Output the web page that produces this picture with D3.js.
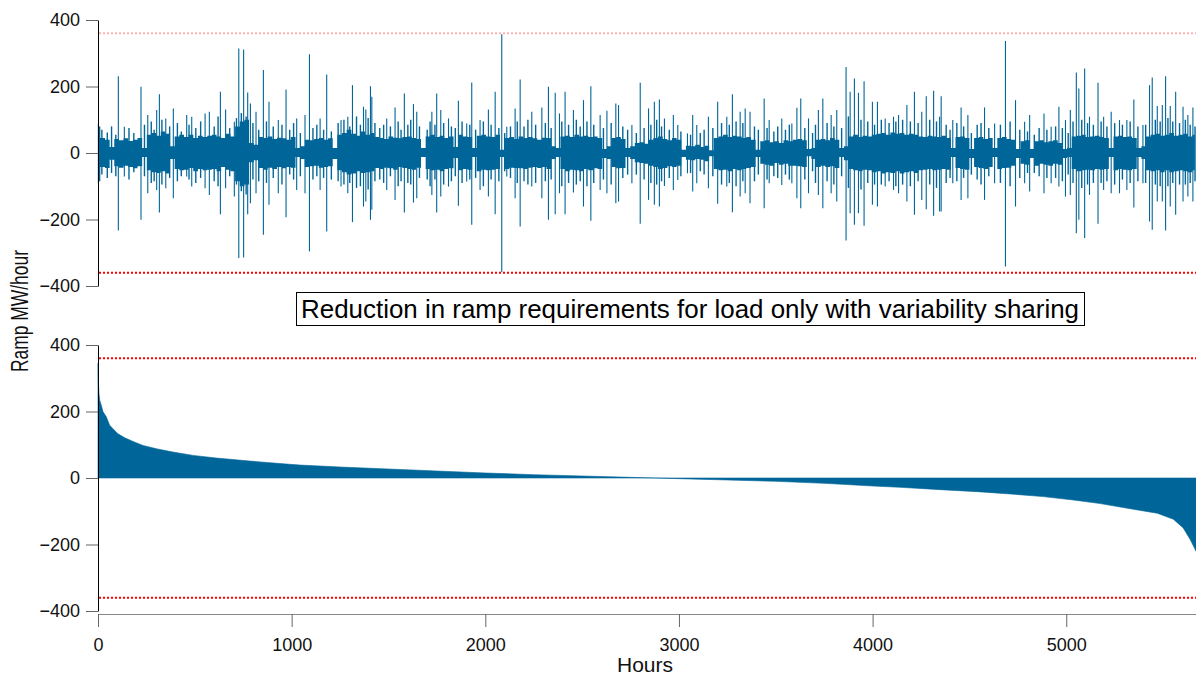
<!DOCTYPE html>
<html>
<head>
<meta charset="utf-8">
<script src="https://cdn.jsdelivr.net/npm/d3@7"></script>
<style>
body { margin: 0; background: #fff; }
svg { display: block; font-family: "Liberation Sans", Arial, sans-serif; }
</style>
</head>
<body>
<div class="chart"></div>
<script>
// ---- data ----
const xTicks = [0, 1000, 2000, 3000, 4000, 5000];
const yTicks = [-400, -200, 0, 200, 400];
const limitLines = [360, -360];
const hourMax = 5670;
const dayLength = 24;

// daily envelope of the dense ramp band (MW/hour), one value per day
const dayHigh = [
  80, 45, 40, 18, 42, 38, 44, 36, 40, 45,
  15, 55, 60, 52, 65, 58, 20, 50, 55, 48,
  55, 45, 52, 48, 52, 55, 50, 45, 58, 50,
  80, 95, 100, 30, 25, 48, 45, 50, 42, 46,
  44, 40, 48, 15, 20, 40, 38, 42, 45, 40,
  44, 15, 55, 60, 70, 58, 52, 65, 55, 60,
  48, 45, 42, 50, 46, 44, 48, 50, 45, 42,
  15, 50, 55, 48, 52, 45, 50, 18, 55, 50,
  48, 15, 52, 55, 50, 48, 55, 10, 45, 48,
  42, 50, 45, 48, 44, 40, 46, 45, 20, 15,
  50, 52, 48, 55, 50, 52, 48, 50, 45, 12,
  20, 45, 48, 42, 15, 20, 30, 32, 28, 40,
  45, 50, 42, 38, 45, 40, 10, 22, 20, 25,
  18, 22, 8, 45, 50, 55, 48, 52, 50, 45,
  48, 40, 10, 35, 38, 32, 35, 30, 38, 35,
  40, 42, 38, 12, 15, 40, 42, 38, 45, 40,
  15, 20, 50, 55, 48, 52, 50, 55, 58, 60,
  55, 62, 58, 60, 55, 58, 55, 50, 48, 52,
  50, 48, 52, 45, 15, 48, 50, 45, 12, 45,
  48, 42, 45, 15, 45, 48, 42, 40, 12, 35,
  38, 12, 35, 38, 32, 35, 38, 30, 12, 15,
  50, 52, 55, 48, 50, 52, 48, 45, 15, 50,
  52, 48, 50, 45, 15, 20, 50, 55, 58, 52,
  55, 60, 52, 55, 58, 50, 55
];
const dayLow = [
  -85, -42, -45, -20, -40, -44, -38, -42, -46, -40,
  -12, -52, -58, -60, -55, -62, -18, -48, -52, -50,
  -45, -55, -48, -52, -50, -48, -55, -42, -50, -55,
  -85, -100, -95, -28, -22, -45, -50, -44, -48, -42,
  -46, -42, -44, -12, -18, -42, -40, -38, -44, -42,
  -40, -18, -52, -58, -65, -62, -55, -60, -58, -55,
  -45, -48, -44, -46, -50, -42, -45, -48, -50, -44,
  -12, -48, -52, -50, -55, -48, -46, -15, -52, -48,
  -50, -12, -55, -50, -52, -50, -48, -12, -48, -44,
  -45, -46, -48, -44, -42, -45, -42, -48, -18, -12,
  -48, -55, -50, -52, -55, -48, -52, -46, -48, -15,
  -18, -42, -46, -45, -12, -18, -28, -30, -32, -38,
  -42, -48, -45, -40, -42, -38, -12, -20, -22, -18,
  -20, -25, -10, -48, -52, -50, -55, -48, -52, -48,
  -45, -42, -12, -32, -35, -38, -30, -35, -32, -38,
  -38, -40, -42, -10, -18, -42, -38, -42, -40, -45,
  -12, -22, -48, -52, -55, -50, -52, -58, -55, -62,
  -58, -60, -55, -62, -58, -55, -60, -52, -50, -48,
  -52, -50, -48, -50, -12, -45, -48, -50, -15, -42,
  -45, -48, -42, -12, -48, -45, -44, -38, -15, -32,
  -35, -15, -38, -32, -35, -38, -32, -35, -15, -12,
  -48, -55, -52, -50, -52, -48, -50, -48, -12, -52,
  -48, -50, -52, -48, -12, -18, -52, -55, -52, -58,
  -52, -58, -55, -52, -55, -58, -52
];

// tall ramp spikes: [hour, up, down]
const spikes = [
  [2, 89, -91], [105, 231, -233], [136, 79, -71], [222, 199, -201], [257, 114, -121],
  [303, 129, -111], [317, 177, -179], [350, 104, -106], [389, 134, -136], [458, 114, -71],
  [484, 109, -101], [553, 119, -106], [575, 124, -126], [632, 184, -184], [659, 131, -106],
  [704, 94, -131], [727, 314, -316], [752, 311, -314], [773, 182, -184], [787, 149, -151],
  [816, 124, -121], [854, 250, -246], [883, 154, -156], [931, 99, -121], [971, 191, -193],
  [1026, 104, -111], [1069, 114, -121], [1092, 297, -296], [1147, 104, -111], [1181, 236, -236],
  [1255, 99, -101], [1290, 109, -121], [1314, 204, -208], [1371, 139, -161], [1383, 131, -146],
  [1407, 201, -201], [1414, 169, -171], [1491, 104, -111], [1534, 137, -141], [1582, 179, -179],
  [1629, 147, -149], [1646, 124, -136], [1724, 124, -126], [1749, 179, -179], [1770, 129, -131],
  [1810, 104, -101], [1861, 157, -159], [1904, 89, -86], [1930, 212, -216], [1973, 99, -111],
  [2016, 131, -131], [2051, 184, -184], [2085, 357, -358], [2111, 79, -71], [2154, 134, -136],
  [2180, 221, -221], [2240, 124, -101], [2292, 137, -136], [2326, 199, -201], [2361, 181, -184],
  [2383, 119, -121], [2412, 184, -184], [2455, 129, -119], [2507, 159, -161], [2545, 201, -204],
  [2593, 114, -111], [2628, 127, -121], [2674, 149, -151], [2688, 144, -146], [2757, 84, -91],
  [2800, 211, -213], [2843, 134, -141], [2873, 154, -156], [2899, 161, -161], [2925, 104, -99],
  [2971, 114, -111], [2994, 84, -81], [3044, 59, -61], [3071, 114, -116], [3092, 84, -91],
  [3152, 109, -106], [3200, 154, -153], [3247, 109, -101], [3276, 177, -178], [3316, 124, -131],
  [3342, 134, -121], [3367, 124, -151], [3440, 164, -166], [3466, 99, -91], [3531, 104, -96],
  [3583, 89, -91], [3609, 136, -136], [3629, 164, -166], [3669, 104, -121], [3720, 129, -126],
  [3743, 164, -166], [3786, 114, -121], [3815, 129, -146], [3863, 259, -263], [3884, 184, -181],
  [3906, 224, -216], [3927, 181, -181], [3956, 216, -219], [3999, 154, -156], [4025, 154, -161],
  [4065, 104, -101], [4108, 109, -111], [4134, 114, -121], [4177, 144, -146], [4216, 184, -186],
  [4254, 124, -141], [4277, 171, -169], [4315, 187, -189], [4346, 109, -176], [4354, 171, -176],
  [4414, 99, -91], [4457, 137, -141], [4492, 114, -136], [4578, 137, -141], [4630, 89, -91],
  [4686, 337, -341], [4738, 159, -161], [4785, 94, -91], [4811, 114, -116], [4885, 119, -121],
  [4922, 79, -91], [4962, 139, -101], [4996, 99, -131], [5021, 129, -126], [5052, 242, -241],
  [5065, 194, -201], [5095, 254, -256], [5120, 109, -126], [5164, 211, -213], [5193, 109, -111],
  [5232, 124, -121], [5275, 99, -121], [5313, 99, -111], [5349, 161, -164], [5396, 84, -91],
  [5430, 204, -206], [5444, 227, -231], [5470, 141, -146], [5496, 144, -146], [5513, 231, -233],
  [5537, 141, -161], [5565, 184, -186], [5603, 139, -146], [5628, 114, -131], [5654, 137, -146]
];

// shorter ramps that fray the edge of the band: [hour, up, down]
const minorSpikes = [
  [20, 70, -65], [48, 62, -75], [70, 80, -60], [92, 55, -70], [160, 75, -80], [185, 60, -58],
  [240, 85, -70], [275, 95, -90], [290, 70, -85], [330, 100, -95], [370, 80, -75], [410, 90, -85],
  [430, 65, -70], [470, 85, -80], [505, 75, -90], [530, 95, -75], [600, 80, -85], [620, 110, -100],
  [680, 75, -70], [715, 105, -95], [740, 120, -115], [765, 110, -125], [800, 90, -80], [830, 70, -85],
  [870, 95, -90], [905, 80, -75], [950, 85, -95], [990, 70, -65], [1010, 90, -80], [1045, 60, -70],
  [1110, 75, -80], [1130, 85, -70], [1165, 70, -75], [1205, 65, -80], [1240, 90, -85], [1270, 100, -95],
  [1300, 80, -90], [1335, 110, -105], [1355, 85, -100], [1395, 105, -110], [1430, 90, -85], [1455, 75, -80],
  [1475, 85, -90], [1510, 80, -70], [1550, 95, -100], [1565, 70, -85], [1600, 85, -90], [1615, 100, -95],
  [1660, 80, -75], [1700, 70, -80], [1715, 95, -100], [1740, 85, -80], [1785, 90, -95], [1825, 80, -85],
  [1845, 75, -70], [1880, 95, -90], [1920, 85, -80], [1950, 70, -75], [1990, 95, -100], [2030, 85, -80],
  [2070, 75, -85], [2100, 60, -55], [2130, 80, -75], [2165, 95, -90], [2200, 80, -85], [2220, 100, -95],
  [2260, 85, -90], [2310, 90, -85], [2340, 75, -80], [2395, 95, -100], [2430, 85, -90], [2470, 100, -95],
  [2490, 80, -85], [2525, 95, -100], [2560, 85, -90], [2610, 75, -80], [2650, 90, -95], [2710, 80, -75],
  [2735, 70, -65], [2780, 60, -65], [2820, 75, -80], [2855, 85, -90], [2885, 100, -95], [2910, 80, -85],
  [2950, 70, -75], [3010, 65, -70], [3060, 55, -60], [3110, 60, -55], [3130, 70, -65], [3175, 75, -70],
  [3220, 90, -95], [3260, 85, -90], [3295, 95, -100], [3330, 90, -85], [3390, 80, -85], [3410, 70, -65],
  [3455, 75, -80], [3490, 65, -70], [3510, 80, -75], [3550, 70, -65], [3570, 85, -80], [3650, 75, -80],
  [3690, 60, -55], [3705, 85, -90], [3765, 90, -85], [3800, 80, -95], [3840, 75, -70], [3875, 110, -105],
  [3940, 100, -110], [3975, 95, -90], [4010, 85, -95], [4045, 100, -95], [4085, 90, -85], [4120, 95, -100],
  [4155, 100, -95], [4195, 95, -100], [4235, 90, -85], [4295, 100, -95], [4330, 95, -105], [4380, 85, -90],
  [4400, 70, -75], [4435, 90, -85], [4470, 80, -75], [4510, 60, -65], [4540, 85, -80], [4560, 90, -95],
  [4600, 75, -70], [4660, 85, -90], [4710, 95, -100], [4760, 70, -75], [4800, 65, -60], [4835, 55, -60],
  [4860, 75, -70], [4900, 70, -75], [4945, 80, -75], [4980, 75, -85], [5010, 60, -65], [5035, 95, -90],
  [5080, 100, -105], [5110, 90, -95], [5140, 85, -90], [5180, 95, -90], [5210, 80, -85], [5250, 90, -95],
  [5290, 85, -80], [5330, 95, -90], [5370, 80, -85], [5410, 85, -90], [5460, 100, -95], [5485, 95, -100],
  [5525, 105, -100], [5550, 95, -90], [5585, 90, -95], [5615, 100, -95], [5640, 85, -90], [5665, 80, -85]
];

// sorted ramps (duration curve) for the lower panel
const durHours = [0, 1, 2, 5, 9, 17, 26, 43, 60, 77, 103, 138, 181, 232, 301, 387, 491, 611, 783,
  973, 1042, 1250, 1500, 1750, 2000, 2250, 2500, 2750, 3000, 3250, 3500, 3750, 4000, 4142, 4349,
  4540, 4711, 4881, 5036, 5176, 5346, 5470, 5553, 5604, 5640, 5666, 5670];
const durValues = [345, 340, 290, 255, 234, 219, 199, 184, 159, 148, 133, 121, 110, 98, 88, 78, 68, 60, 51,
  42, 39, 33, 27, 21, 15, 10, 6, 2, -2, -6, -10, -16, -24, -28, -35,
  -41, -48, -56, -66, -77, -94, -106, -124, -150, -185, -215, -220];

const annotation = "Reduction in ramp requirements for load only with variability sharing";

// ---- layout ----
const width = 1196, height = 677;
const blue = "#006699";

const svg = d3.select(".chart").append("svg")
  .attr("width", width)
  .attr("height", height);

const x = d3.scaleLinear().domain([0, hourMax]).range([98, 1196]);
const yTop = d3.scaleLinear().domain([-400, 400]).range([286, 20]);
const yBot = d3.scaleLinear().domain([-400, 400]).range([611, 345]);

// top panel: hourly ramps
const days = dayHigh.map((h, i) => ({ hour: i * dayLength, hi: h, lo: dayLow[i] }));
const band = d3.area()
  .x(d => x(d.hour))
  .y0(d => yTop(d.lo))
  .y1(d => yTop(d.hi))
  .curve(d3.curveStep);

const topPanel = svg.append("g").attr("class", "top-panel");
topPanel.append("path")
  .datum(days)
  .attr("d", band)
  .style("fill", blue)
  .style("stroke", "none");

function drawSpikes(list, cls, w) {
  topPanel.selectAll("." + cls)
    .data(list)
    .enter()
    .append("line")
    .attr("class", cls)
    .attr("x1", d => x(d[0]))
    .attr("x2", d => x(d[0]))
    .attr("y1", d => yTop(d[1]))
    .attr("y2", d => yTop(d[2]))
    .style("stroke", blue)
    .style("stroke-width", w);
}
drawSpikes(minorSpikes, "minor-spike", 1.4);
drawSpikes(spikes, "spike", 1.1);

// bottom panel: sorted ramps
const durData = durHours.map((h, i) => ({ hour: h, value: durValues[i] }));
const durArea = d3.area()
  .x(d => x(d.hour))
  .y0(yBot(0))
  .y1(d => yBot(d.value));

svg.append("path")
  .datum(durData)
  .attr("d", durArea)
  .style("fill", blue)
  .style("stroke", blue)
  .style("stroke-width", 0.6);

// limit lines
const limits = svg.append("g").attr("class", "limits");
limitLines.forEach(v => {
  limits.append("line")
    .attr("x1", 99).attr("x2", width)
    .attr("y1", yTop(v)).attr("y2", yTop(v))
    .style("stroke", "#ff0000")
    .style("stroke-opacity", v > 0 ? 0.3 : 1)
    .style("stroke-width", 2)
    .style("stroke-dasharray", "2,2");
  limits.append("line")
    .attr("x1", 99).attr("x2", width)
    .attr("y1", yBot(v)).attr("y2", yBot(v))
    .style("stroke", "#ff0000")
    .style("stroke-width", 2)
    .style("stroke-dasharray", "2,2");
});

// axes
function styleAxis(g, domainColor) {
  g.select(".domain").style("stroke", domainColor);
  g.selectAll(".tick line").style("stroke", "#666");
  g.selectAll(".tick text").style("fill", "#111").style("font-size", "18px");
}

[yTop, yBot].forEach(y => {
  svg.append("g")
    .attr("transform", "translate(98,0)")
    .call(d3.axisLeft(y).tickValues(yTicks).tickSize(12).tickSizeOuter(0).tickPadding(6))
    .call(g => styleAxis(g, "#000"))
    .style("font-family", "inherit");
});

svg.append("g")
  .attr("transform", "translate(0,614)")
  .call(d3.axisBottom(x).tickValues(xTicks).tickFormat(d3.format("d"))
    .tickSize(13).tickSizeOuter(0).tickPadding(11))
  .call(g => styleAxis(g, "#888"))
  .style("font-family", "inherit");

// axis titles
svg.append("text")
  .attr("x", 645).attr("y", 672)
  .attr("text-anchor", "middle")
  .style("font-size", "21px")
  .style("fill", "#111")
  .text("Hours");

svg.append("text")
  .attr("transform", "translate(28,311) rotate(-90)")
  .attr("text-anchor", "middle")
  .attr("textLength", 122)
  .attr("lengthAdjust", "spacingAndGlyphs")
  .style("font-size", "23px")
  .style("fill", "#111")
  .text("Ramp MW/hour");

// annotation box
svg.append("rect")
  .attr("x", 296.5).attr("y", 292.5)
  .attr("width", 788).attr("height", 33)
  .style("fill", "#fff")
  .style("stroke", "#000")
  .style("stroke-width", 1);

svg.append("text")
  .attr("x", 301).attr("y", 318)
  .attr("textLength", 778)
  .attr("lengthAdjust", "spacingAndGlyphs")
  .style("font-family", "'Liberation Sans Narrow', 'Arial Narrow', 'Liberation Sans', sans-serif")
  .style("font-size", "26px")
  .style("fill", "#000")
  .text(annotation);
</script>
</body>
</html>
